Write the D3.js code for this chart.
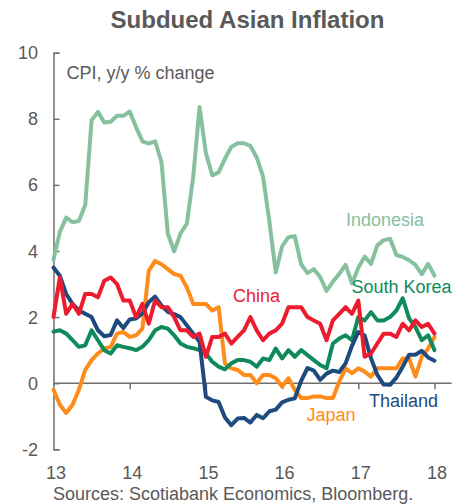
<!DOCTYPE html>
<meta charset="utf-8">
<style>
body { margin: 0; background: #fff; }
svg { font-family: "Liberation Sans", Arial, sans-serif; }
.axis path, .axis line { stroke: #707070; stroke-width: 1.5; fill: none; }
.series { fill: none; stroke-width: 4; stroke-linejoin: round; stroke-linecap: round; }
.tick-label, .note { font-size: 18px; fill: #595959; }
.title { font-size: 24px; font-weight: bold; fill: #595959; }
.name { font-size: 18px; }
</style>
<div class="chart"></div>
<script src="https://cdnjs.cloudflare.com/ajax/libs/d3/7.8.5/d3.min.js"></script>
<script>

// monthly CPI y/y %, Jan 2013 .. Jan 2018
var indonesia = [3.73, 4.58, 5.01, 4.87, 4.91, 5.39, 7.96, 8.21, 7.89, 7.91, 8.09, 8.09,
  8.22, 7.75, 7.32, 7.25, 7.32, 6.70, 4.53, 3.99, 4.53, 4.83, 6.23, 8.36,
  6.96, 6.29, 6.38, 6.79, 7.15, 7.26, 7.26, 7.18, 6.83, 6.25, 4.89, 3.35,
  4.14, 4.42, 4.45, 3.60, 3.33, 3.45, 3.21, 2.79, 3.07, 3.31, 3.58, 3.02,
  3.49, 3.83, 3.61, 4.17, 4.33, 4.37, 3.88, 3.82, 3.72, 3.58, 3.30, 3.61,
  3.25];

var china = [2.0, 3.2, 2.1, 2.4, 2.1, 2.7, 2.7, 2.6, 3.1, 3.2, 3.0, 2.5,
  2.5, 2.0, 2.4, 1.8, 2.5, 2.3, 2.3, 2.0, 1.6, 1.6, 1.4, 1.5,
  0.8, 1.4, 1.4, 1.5, 1.2, 1.4, 1.6, 2.0, 1.6, 1.3, 1.5, 1.6,
  1.8, 2.3, 2.3, 2.3, 2.0, 1.9, 1.8, 1.3, 1.9, 2.1, 2.3, 2.1,
  2.5, 0.8, 0.9, 1.2, 1.5, 1.5, 1.4, 1.8, 1.6, 1.9, 1.7, 1.8,
  1.5];

var southKorea = [1.56, 1.6, 1.5, 1.3, 1.1, 1.15, 1.6, 1.3, 1.0, 0.9, 1.15, 1.1,
  1.06, 1.0, 1.1, 1.3, 1.6, 1.7, 1.65, 1.45, 1.2, 1.1, 1.06, 1.0,
  0.9, 0.65, 0.5, 0.42, 0.6, 0.7, 0.7, 0.65, 0.5, 0.75, 0.7, 1.05,
  0.75, 1.0, 0.8, 1.0, 0.85, 0.7, 0.55, 0.45, 1.2, 1.35, 1.45, 1.3,
  2.0, 1.9, 2.15, 1.9, 1.9, 2.0, 2.2, 2.57, 1.96, 1.7, 1.3, 1.45,
  1.0];

var japan = [-0.2, -0.65, -0.9, -0.65, -0.2, 0.4, 0.7, 0.9, 1.05, 1.1, 1.5, 1.55,
  1.4, 1.45, 1.65, 3.4, 3.7, 3.6, 3.45, 3.3, 3.25, 2.9, 2.4, 2.4,
  2.4, 2.2, 2.3, 0.6, 0.45, 0.4, 0.25, 0.25, 0.0, 0.25, 0.25, 0.15,
  -0.1, 0.15, -0.2, -0.45, -0.45, -0.4, -0.4, -0.45, -0.45, 0.05, 0.45, 0.3,
  0.45, 0.35, 0.2, 0.45, 0.45, 0.45, 0.45, 0.75, 0.75, 0.2, 0.8, 1.05,
  1.4];

var thailand = [3.5, 3.25, 2.7, 2.4, 2.2, 2.1, 2.0, 1.6, 1.42, 1.46, 1.9, 1.67,
  1.93, 1.96, 2.11, 2.45, 2.62, 2.35, 2.16, 2.09, 2.0, 1.75, 1.5, 1.25,
  -0.41, -0.52, -0.57, -1.04, -1.27, -1.07, -1.05, -1.19, -0.96, -1.06, -0.85, -0.8,
  -0.58, -0.5, -0.46, 0.07, 0.46, 0.38, 0.1, 0.29, 0.38, 0.34, 0.6, 1.13,
  1.55, 1.44, 0.76, 0.25, -0.04, -0.05, 0.17, 0.5, 0.86, 0.86, 0.98, 0.78,
  0.68];

var yearTicks = [0, 12, 24, 36, 48, 60];
var yearLabels = ["13", "14", "15", "16", "17", "18"];
var yTicks = [-2, 0, 2, 4, 6, 8, 10];

var series = [
  {name: "Indonesia", values: indonesia, color: "#86c09e", lx: 346, ly: 225.5},
  {name: "Japan", values: japan, color: "#ff8c1a", lx: 306.5, ly: 421},
  {name: "South Korea", values: southKorea, color: "#0f8a5b", lx: 351.5, ly: 293},
  {name: "Thailand", values: thailand, color: "#1f4a7e", lx: 369, ly: 406.5},
  {name: "China", values: china, color: "#ec1c2e", lx: 233, ly: 301.5}
];

var width = 466, height = 504;

var x = d3.scaleLinear().domain([0, 60]).range([53.5, 434.5]);
var y = d3.scaleLinear().domain([-2, 10]).range([449.3, 52.7]);

var svg = d3.select(".chart")
    .append("svg")
    .attr("width", width)
    .attr("height", height);

svg.append("text")
    .attr("class", "title")
    .attr("x", 247.5)
    .attr("y", 28)
    .style("text-anchor", "middle")
    .text("Subdued Asian Inflation");

// y axis, ticks pointing inward
svg.append("g")
    .attr("class", "axis")
    .attr("transform", "translate(" + x(0) + ",0)")
    .call(d3.axisLeft(y).tickValues(yTicks).tickSize(-6).tickSizeOuter(-6).tickFormat(""));

svg.append("g")
    .selectAll("text")
    .data(yTicks)
    .enter()
    .append("text")
    .attr("class", "tick-label")
    .attr("x", 38)
    .attr("y", function(d) { return y(d) + 6.5; })
    .style("text-anchor", "end")
    .text(function(d) { return d; });

// x axis at zero
var xAxis = svg.append("g")
    .attr("class", "axis")
    .attr("transform", "translate(0," + y(0) + ")")
    .call(d3.axisBottom(x).tickValues(yearTicks.slice(1)).tickSize(6).tickSizeOuter(0).tickFormat(""));
xAxis.select(".domain").remove();
xAxis.append("line")
    .attr("x1", x(0))
    .attr("x2", x(62.7))
    .attr("y1", 0)
    .attr("y2", 0);

svg.append("g")
    .selectAll("text")
    .data(yearTicks)
    .enter()
    .append("text")
    .attr("class", "tick-label")
    .attr("x", function(d) { return x(d) + 2.5; })
    .attr("y", 479)
    .style("text-anchor", "middle")
    .text(function(d, i) { return yearLabels[i]; });

svg.append("text")
    .attr("class", "note")
    .attr("x", 66.5)
    .attr("y", 79)
    .text("CPI, y/y % change");

var line = d3.line()
    .x(function(d, i) { return x(i); })
    .y(function(d) { return y(d); });

svg.append("g")
    .selectAll("path")
    .data(series)
    .enter()
    .append("path")
    .attr("class", "series")
    .attr("stroke", function(d) { return d.color; })
    .attr("d", function(d) { return line(d.values); });

svg.append("g")
    .selectAll("text")
    .data(series)
    .enter()
    .append("text")
    .attr("class", "name")
    .attr("x", function(d) { return d.lx; })
    .attr("y", function(d) { return d.ly; })
    .attr("fill", function(d) { return d.color; })
    .text(function(d) { return d.name; });

svg.append("text")
    .attr("class", "note")
    .attr("x", 53)
    .attr("y", 500)
    .text("Sources: Scotiabank Economics, Bloomberg.");

</script>
